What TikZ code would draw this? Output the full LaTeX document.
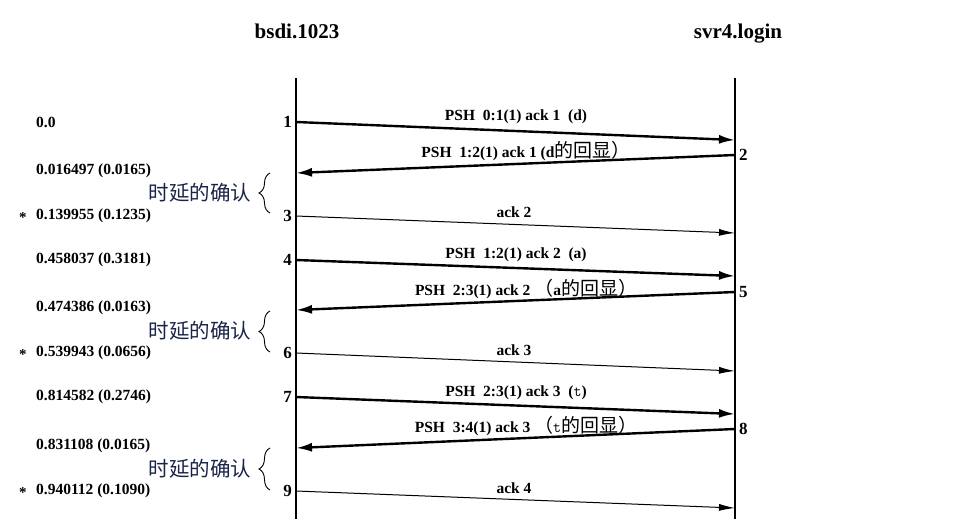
\documentclass[tikz,border=0pt]{standalone}
\usepackage{fontspec}
\setmainfont{Liberation Serif}
\newfontfamily\cjk{Noto Sans CJK SC}
\newcommand\cjkbig[1]{{\fontsize{19}{19}\selectfont\mdseries\cjk #1}}
\usetikzlibrary{arrows.meta,decorations.pathreplacing}
\definecolor{cjkblue}{HTML}{1A2448}
\tikzset{
  x=1pt,y=-1pt,
  timeline/.style={line width=1.2pt},
  thickmsg/.style={line width=2.4pt,-{Latex[length=16pt,width=9pt]}},
  thinmsg/.style={line width=1pt,-{Latex[length=16pt,width=7pt]}},
  msglabel/.style={font=\fontsize{15.5}{15.5}\selectfont\bfseries,inner sep=0pt},
  numl/.style={font=\fontsize{17}{17}\selectfont\bfseries,anchor=east,inner sep=0pt},
  numr/.style={font=\fontsize{17}{17}\selectfont\bfseries,anchor=west,inner sep=0pt},
  timelab/.style={font=\fontsize{15.5}{15.5}\selectfont\bfseries,anchor=west,inner sep=0pt},
  star/.style={font=\fontsize{15}{15}\selectfont\bfseries,anchor=center,inner sep=0pt},
  header/.style={font=\fontsize{21}{21}\selectfont\bfseries,inner sep=0pt,anchor=base},
  delay/.style={font=\fontsize{20.5}{20.5}\selectfont\cjk,text=cjkblue,inner sep=0pt},
  bracedeco/.style={decorate,decoration={brace,amplitude=11pt},line width=0.9pt}
}
\begin{document}
\begin{tikzpicture}
\useasboundingbox (0,0) rectangle (966,519);
% headers
\node[header] (hl) at (297,39) {bsdi.1023};
\node[header] (hr) at (738,39) {svr4.login};
% timelines
\coordinate (Ltop) at (296,78);
\coordinate (Lbot) at (296,519);
\coordinate (Rtop) at (735,78);
\coordinate (Rbot) at (735,519);
\draw[timeline] (Ltop) -- (Lbot);
\draw[timeline] (Rtop) -- (Rbot);
% message end points
\coordinate (L1) at (296,122); \coordinate (R1) at (735,140);
\coordinate (R2) at (735,155); \coordinate (L2) at (296,173);
\coordinate (L3) at (296,216); \coordinate (R3) at (735,233);
\coordinate (L4) at (296,260); \coordinate (R4) at (735,276);
\coordinate (R5) at (735,292); \coordinate (L5) at (296,310);
\coordinate (L6) at (296,353); \coordinate (R6) at (735,371);
\coordinate (L7) at (296,397); \coordinate (R7) at (735,414);
\coordinate (R8) at (735,429); \coordinate (L8) at (296,448);
\coordinate (L9) at (296,491); \coordinate (R9) at (735,508);
% messages
\draw[thickmsg] (L1) -- (R1);
\draw[thickmsg] (R2) -- (L2);
\draw[thinmsg] (L3) -- (R3);
\draw[thickmsg] (L4) -- (R4);
\draw[thickmsg] (R5) -- (L5);
\draw[thinmsg] (L6) -- (R6);
\draw[thickmsg] (L7) -- (R7);
\draw[thickmsg] (R8) -- (L8);
\draw[thinmsg] (L9) -- (R9);
% message labels
\node[msglabel] (m1) at (516,117) {PSH\ \ 0:1(1) ack 1\ \ (d)};
\node[msglabel] (m2) at (526,151) {PSH\ \ 1:2(1) ack 1 (d\cjkbig{的回显）}};
\node[msglabel] (m3) at (514,212) {ack 2};
\node[msglabel] (m4) at (516,255) {PSH\ \ 1:2(1) ack 2\ \ (a)};
\node[msglabel] (m5) at (526,289) {PSH\ \ 2:3(1) ack 2\ \cjkbig{（}a\cjkbig{的回显）}};
\node[msglabel] (m6) at (514,350) {ack 3};
\node[msglabel] (m7) at (516,393) {PSH\ \ 2:3(1) ack 3\ \ ({\mdseries\ttfamily t})};
\node[msglabel] (m8) at (526,426) {PSH\ \ 3:4(1) ack 3\ \cjkbig{（}{\mdseries\ttfamily t}\cjkbig{的回显）}};
\node[msglabel] (m9) at (514,488) {ack 4};
% segment numbers
\node[numl] (n1) at (292,122) {1};
\node[numr] (n2) at (739,155) {2};
\node[numl] (n3) at (292,216) {3};
\node[numl] (n4) at (292,260) {4};
\node[numr] (n5) at (739,292) {5};
\node[numl] (n6) at (292,353) {6};
\node[numl] (n7) at (292,397) {7};
\node[numr] (n8) at (739,429) {8};
\node[numl] (n9) at (292,491) {9};
% times
\node[timelab] (t1) at (36,122) {0.0};
\node[timelab] (t2) at (36,171) {0.016497 (0.0165)};
\node[timelab] (t3) at (36,216) {0.139955 (0.1235)};
\node[timelab] (t4) at (36,260) {0.458037 (0.3181)};
\node[timelab] (t5) at (36,308) {0.474386 (0.0163)};
\node[timelab] (t6) at (36,353) {0.539943 (0.0656)};
\node[timelab] (t7) at (36,397) {0.814582 (0.2746)};
\node[timelab] (t8) at (36,446) {0.831108 (0.0165)};
\node[timelab] (t9) at (36,491) {0.940112 (0.1090)};
\node[star] (s3) at (23,218) {*};
\node[star] (s6) at (23,355) {*};
\node[star] (s9) at (23,493) {*};
% delayed ack braces
\coordinate (b1a) at (270,213); \coordinate (b1b) at (270,173);
\coordinate (b2a) at (270,352); \coordinate (b2b) at (270,311);
\coordinate (b3a) at (270,490); \coordinate (b3b) at (270,448);
\draw[bracedeco] (b1a) -- (b1b);
\draw[bracedeco] (b2a) -- (b2b);
\draw[bracedeco] (b3a) -- (b3b);
\node[delay] (d1) at (200,193) {时延的确认};
\node[delay] (d2) at (200,331) {时延的确认};
\node[delay] (d3) at (200,469) {时延的确认};
\end{tikzpicture}
\end{document}
